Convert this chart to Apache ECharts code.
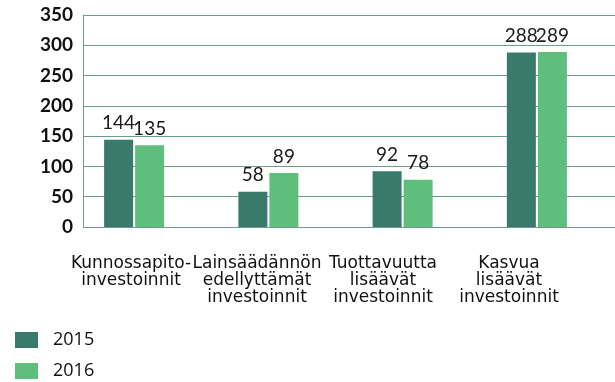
<!DOCTYPE html>
<html>
<head>
<meta charset="utf-8">
<script src="https://cdn.jsdelivr.net/npm/echarts@6/dist/echarts.min.js"></script>
<style>
  html, body { margin: 0; padding: 0; background: #fff; }
  #chart { width: 615px; height: 382px; }
</style>
</head>
<body>
<div id="chart"></div>
<script>
// Investment categories and yearly values
const categories = [
  'Kunnossapito-\ninvestoinnit',
  'Lainsäädännön\nedellyttämät\ninvestoinnit',
  'Tuottavuutta\nlisäävät\ninvestoinnit',
  'Kasvua\nlisäävät\ninvestoinnit'
];
const seriesNames = ['2015', '2016'];
const values2015 = [144, 58, 92, 288];
const values2016 = [135, 89, 78, 289];
const yTicks = { min: 0, max: 350, interval: 50 };

const FONT = 'Lato';
const LABEL_FONT = '"DejaVu Sans", sans-serif';
const LEGEND_FONT = 'Open Sans';
const DARK = '#3a7a6b';
const LIGHT = '#5ebe7c';
const GRIDLINE = '#6a9e90';

const chart = echarts.init(document.getElementById('chart'), null, { renderer: 'canvas' });

const valueLabel = {
  show: true,
  position: 'top',
  distance: 7,
  color: '#1a1a1a',
  fontFamily: FONT,
  fontSize: 19,
  fontWeight: 400
};

// one legend block per year, stacked vertically
const legendBlock = (name, top) => ({
  left: 15,
  top: top,
  padding: 0,
  itemWidth: 23,
  itemHeight: 16,
  icon: 'rect',
  textStyle: { fontFamily: LEGEND_FONT, fontSize: 18, color: '#111', padding: [0, 0, 0, 10] },
  data: [name]
});

chart.setOption({
  animation: false,
  textStyle: { fontFamily: FONT },
  color: [DARK, LIGHT],
  legend: [legendBlock(seriesNames[0], 331), legendBlock(seriesNames[1], 362)],
  grid: [
    // axis frame and gridlines
    { left: 83, right: 0, top: 15, bottom: 155 },
    // bars
    { left: 67, right: 11, top: 15, bottom: 155 },
    // category labels
    { left: 68, right: 43, top: 15, bottom: 155 }
  ],
  xAxis: [
    { gridIndex: 0, type: 'category', data: categories, show: false },
    { gridIndex: 1, type: 'category', data: categories, show: false },
    {
      gridIndex: 2, type: 'category', data: categories,
      axisLine: { show: false }, axisTick: { show: false },
      axisLabel: {
        interval: 0, margin: 28, color: '#111',
        fontFamily: LABEL_FONT, fontSize: 17, fontWeight: 400, lineHeight: 17
      }
    }
  ],
  yAxis: [
    {
      gridIndex: 0, type: 'value', min: yTicks.min, max: yTicks.max, interval: yTicks.interval,
      axisLine: { show: true, lineStyle: { color: GRIDLINE, width: 1 } },
      axisTick: { show: false },
      splitLine: { show: true, lineStyle: { color: GRIDLINE, width: 1 } },
      axisLabel: { margin: 10, color: '#111', fontFamily: FONT, fontSize: 19, fontWeight: 'bold' }
    },
    { gridIndex: 1, type: 'value', min: yTicks.min, max: yTicks.max, interval: yTicks.interval, show: false, splitLine: { show: false } },
    { gridIndex: 2, type: 'value', min: yTicks.min, max: yTicks.max, interval: yTicks.interval, show: false, splitLine: { show: false } }
  ],
  series: [
    {
      name: seriesNames[0], type: 'bar', xAxisIndex: 1, yAxisIndex: 1,
      data: values2015, barWidth: 29, barGap: '7%',
      itemStyle: { color: DARK }, label: valueLabel
    },
    {
      name: seriesNames[1], type: 'bar', xAxisIndex: 1, yAxisIndex: 1,
      data: values2016, barWidth: 29, barGap: '7%',
      itemStyle: { color: LIGHT }, label: valueLabel
    }
  ]
});
</script>
</body>
</html>
